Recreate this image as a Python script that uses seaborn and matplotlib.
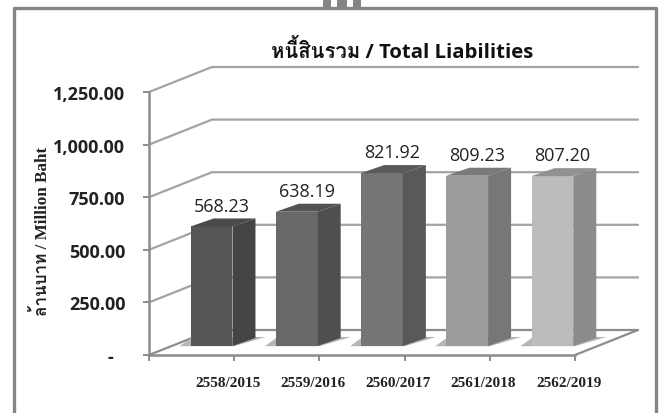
import matplotlib
matplotlib.use("Agg")
import matplotlib.pyplot as plt
from matplotlib import font_manager as fm
from matplotlib.lines import Line2D
from matplotlib.patches import Polygon, Rectangle
import seaborn as sns

years = ['2558/2015', '2559/2016', '2560/2017', '2561/2018', '2562/2019']
values = [568.23, 638.19, 821.92, 809.23, 807.20]
value_labels = ['568.23', '638.19', '821.92', '809.23', '807.20']
ticks = [0, 250, 500, 750, 1000, 1250]
tick_labels = ['-', '250.00', '500.00', '750.00', '1,000.00', '1,250.00']
title = 'หนี้สินรวม / Total Liabilities'
ylabel = 'ล้านบาท / Million Baht'
front_cols = ['#565658', '#69696b', '#757577', '#9c9c9e', '#bcbcbe']
side_cols = ['#444446', '#4f4f51', '#59595b', '#77777a', '#8b8b8d']
top_cols = ['#4a4a4c', '#525254', '#5a5a5c', '#7a7a7c', '#929294']

W, H = 663, 414
sns.set_theme(style='white')

# any installed family with thai letters goes in front of the latin one
thai_fonts = []
for f in fm.fontManager.ttflist:
    try:
        if 0x0E19 in fm.get_font(f.fname).get_charmap() and f.name not in thai_fonts:
            thai_fonts.append(f.name)
    except Exception:
        pass
title_fam = ['Open Sans'] + thai_fonts + ['DejaVu Sans']
label_fam = ['Liberation Serif'] + thai_fonts + ['DejaVu Sans']


def rect(x0, y0, x1, y1):
    # pixel box, y from top -> figure fractions
    return [x0 / W, 1 - y1 / H, (x1 - x0) / W, (y1 - y0) / H]


fig = plt.figure(figsize=(W / 100, H / 100), dpi=100, facecolor='white')

# picture frame and the three tabs above it
GREY = '#858585'
fig.add_artist(Line2D([14 / W, 14 / W, 656 / W, 656 / W], [0, 1 - 9 / H, 1 - 9 / H, 0], color=GREY, lw=2.4))
for x0, x1 in [(323, 331), (337, 347), (353, 361)]:
    fig.add_artist(Rectangle((x0 / W, 1 - 8 / H), (x1 - x0) / W, 8 / H, color=GREY, lw=0))

# front plane: axis, ticks and labels
ax = fig.add_axes(rect(149, 93, 575, 356))
ax.set_facecolor('none')
ax.set_xlim(-0.5, 4.5)
ax.set_ylim(0, 1250)
sns.despine(ax=ax)
for s in ['left', 'bottom']:
    ax.spines[s].set_color('#8c8c8c')
    ax.spines[s].set_linewidth(1.8)
ax.set_xticks([i - 0.5 for i in range(6)], [''] * 6)
ax.set_yticks(ticks, tick_labels, fontsize=13, fontweight='bold', family='Open Sans', color='#222222')
ax.tick_params(axis='both', length=4, width=1.4, color='#8c8c8c', left=True, bottom=True)
ax.tick_params(axis='y', pad=13)
# the dash sits further left than the right edge of the numbers
ax.get_yticklabels()[0].set_ha('center')
ax.get_yticklabels()[0].set_x(-0.036)
for i, y in enumerate(years):
    ax.annotate(y, (i, 0), xytext=(26, -20), textcoords='offset points', ha='center', va='center',
                fontsize=11, fontweight='bold', family='Liberation Serif', color='#222222', annotation_clip=False)
fig.text(42 / W, 1 - 231 / H, ylabel, rotation=90, ha='center', va='center', fontsize=12.3, fontweight='bold',
         family=label_fam, color='#222222')
fig.text(402 / W, 1 - 52 / H, title, ha='center', va='center', fontsize=14.6, fontweight='bold',
         family=title_fam, color='#111111')

# walls and floor, offsets in data units of the front plane
wall_dx = 63 / 85.2
wall_dy = 25 * 1250 / 263
x_l, x_r = -0.5, 4.5
for v in ticks:
    col = '#8c8c8c' if v == 0 else '#a3a3a3'
    ax.plot([x_l, x_l + wall_dx, x_r + wall_dx], [v, v + wall_dy, v + wall_dy], color=col, lw=1.6,
            clip_on=False, zorder=1)
ax.plot([x_r, x_r + wall_dx], [0, wall_dy], color='#8c8c8c', lw=1.6, clip_on=False, zorder=1)

# bars sit half way into the floor
bar_ax = fig.add_axes(rect(169, 84, 595, 347))
bar_ax.set_facecolor('none')
sns.barplot(x=years, y=values, hue=years, palette=front_cols, legend=False, width=0.49, saturation=1,
            linewidth=0, ax=bar_ax, zorder=3)
bar_ax.set_xlim(-0.5, 4.5)
bar_ax.set_ylim(0, 1250)
bar_ax.axis('off')

dep_x = 23 / 85.2
dep_y = 8 * 1250 / 263
bars = sorted(bar_ax.patches, key=lambda p: p.get_x())
for i, p in enumerate(bars):
    x0 = p.get_x()
    x1 = x0 + p.get_width()
    h = p.get_height()
    # floor shadow
    bar_ax.add_patch(Polygon([(x0 - 0.13, -1), (x0 + 0.02, dep_y + 5), (x1 + dep_x + 0.12, dep_y + 5), (x1 + 0.02, -1)],
                             closed=True, color='#b5b5b5', lw=0, clip_on=False, zorder=2))
    bar_ax.add_patch(Polygon([(x1, 0), (x1 + dep_x, dep_y), (x1 + dep_x, h + dep_y), (x1, h)],
                             closed=True, color=side_cols[i], lw=0, clip_on=False, zorder=3))
    bar_ax.add_patch(Polygon([(x0, h), (x0 + dep_x, h + dep_y), (x1 + dep_x, h + dep_y), (x1, h)],
                             closed=True, color=top_cols[i], lw=0, clip_on=False, zorder=3))
    bar_ax.annotate(value_labels[i], (x0 + p.get_width() / 2, h), xytext=(7, 15), textcoords='offset points',
                    ha='center', va='center', fontsize=13, family='Open Sans', color='#222222', zorder=5,
                    annotation_clip=False)

fig.savefig('out.png', dpi=100)
